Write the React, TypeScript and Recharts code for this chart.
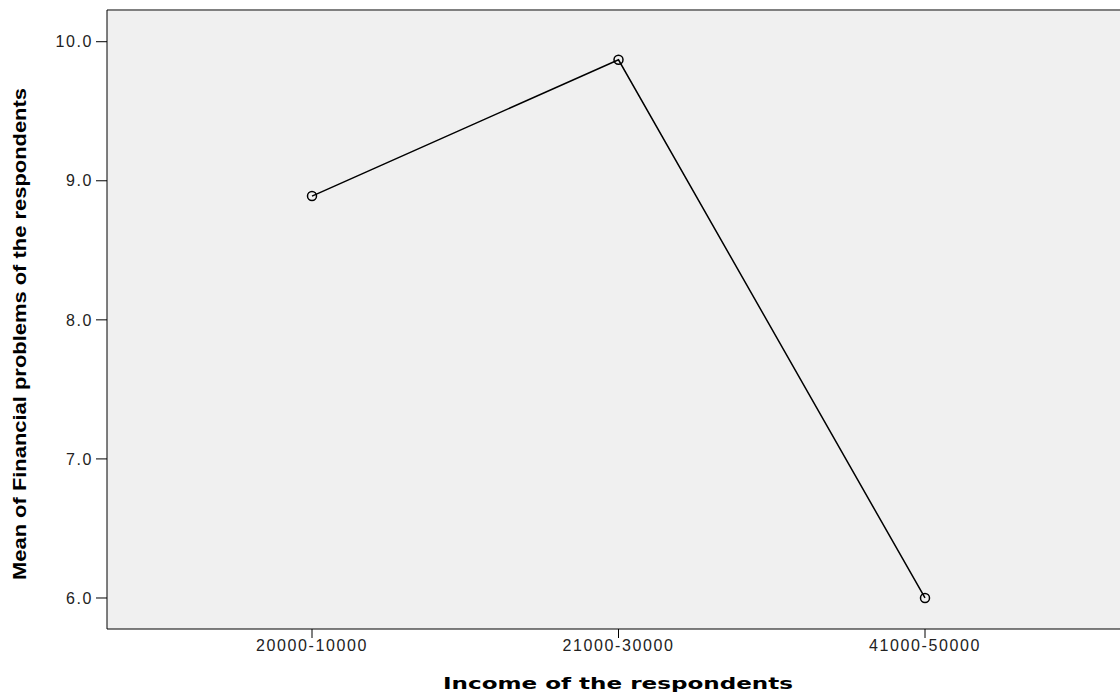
import { CartesianGrid, Line, LineChart, ReferenceLine, XAxis, YAxis } from "recharts"

const incomeGroups = ["20000-10000", "21000-30000", "41000-50000"]
const meanProblems = [8.89, 9.87, 6.0]
const yTicks = [6, 7, 8, 9, 10]
const yDomain = [5.777, 10.228]

const data = incomeGroups.map((name, i) => ({ name, mean: meanProblems[i] }))

const tickFont = {
  fill: "#222",
  fontSize: 16,
  letterSpacing: 1.6,
  fontFamily: "'Liberation Sans', Arial, sans-serif",
}

const YLabel = () => (
  <text
    x={0}
    y={0}
    transform="translate(26, 334) rotate(-90)"
    textAnchor="middle"
    fontFamily="'Liberation Sans Narrow', 'Liberation Sans', Arial, sans-serif"
    fontWeight="bold"
    fontSize={19}
    fill="#000"
    textLength={492}
    lengthAdjust="spacingAndGlyphs"
  >
    Mean of Financial problems of the respondents
  </text>
)

const XLabel = () => (
  <text
    x={618}
    y={689}
    textAnchor="middle"
    fontFamily="'DejaVu Sans', Verdana, sans-serif"
    fontWeight="bold"
    fontSize={16}
    fill="#000"
    textLength={350}
    lengthAdjust="spacingAndGlyphs"
  >
    Income of the respondents
  </text>
)

export default function App() {
  return (
    <div style={{ position: "fixed", left: 0, top: 0, width: 1120, height: 700, overflow: "hidden", background: "#fff" }}>
      <LineChart width={1135} height={700} data={data} margin={{ top: 10, right: 5, left: 47, bottom: 0 }}>
        <CartesianGrid horizontal={false} vertical={false} fill="#f0f0f0" />
        <XAxis
          dataKey="name"
          height={71}
          padding={{ left: 205, right: 205 }}
          stroke="#000"
          tickSize={9}
          tickMargin={2}
          tick={tickFont}
          label={<XLabel />}
        />
        <YAxis
          type="number"
          width={60}
          domain={yDomain}
          ticks={yTicks}
          allowDataOverflow
          stroke="#000"
          tickSize={11}
          tickMargin={3}
          tickFormatter={(v) => v.toFixed(1)}
          tick={tickFont}
          label={<YLabel />}
        />
        <ReferenceLine y={yDomain[1]} stroke="#808080" strokeWidth={2} />
        <Line
          dataKey="mean"
          stroke="#000"
          strokeWidth={1.5}
          dot={{ r: 4.5, stroke: "#000", strokeWidth: 1.5, fill: "none" }}
          activeDot={false}
          isAnimationActive={false}
        />
      </LineChart>
    </div>
  )
}
